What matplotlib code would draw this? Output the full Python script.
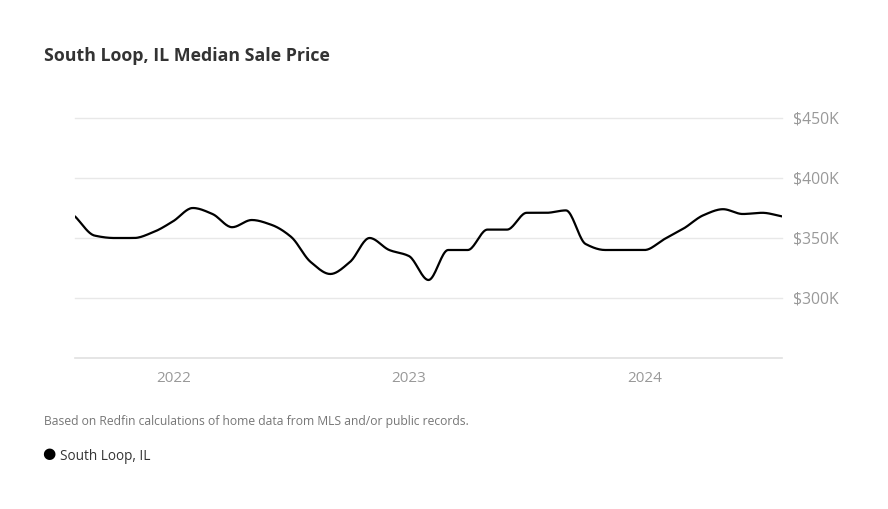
import numpy as np
import matplotlib.pyplot as plt

# monthly median sale price, Aug 2021 .. Aug 2024 (in $K)
months = np.arange(37)  # 0 = Aug 2021
prices = [368, 352, 350, 350, 355, 364, 375, 370, 359, 365, 361, 351,
          330, 320, 330, 350, 340, 335, 315, 340, 340, 357, 357, 371,
          371, 373, 345, 340, 340, 340, 349, 358, 369, 374, 370, 371, 368]

year_ticks = [5, 17, 29]
year_labels = ["2022", "2023", "2024"]
y_ticks = [300, 350, 400, 450]
y_labels = ["$300K", "$350K", "$400K", "$450K"]


def pchip(x, y, n=20):
    # monotone cubic curve so the line looks like the smooth web chart
    x = np.asarray(x, float)
    y = np.asarray(y, float)
    h = np.diff(x)
    d = np.diff(y) / h
    m = np.zeros_like(y)
    for k in range(1, len(y) - 1):
        if d[k - 1] * d[k] > 0:
            w1 = 2 * h[k] + h[k - 1]
            w2 = h[k] + 2 * h[k - 1]
            m[k] = (w1 + w2) / (w1 / d[k - 1] + w2 / d[k])
    m[0] = d[0]
    m[-1] = d[-1]
    xs, ys = [], []
    for k in range(len(h)):
        t = np.linspace(0, 1, n, endpoint=False)
        h00 = 2 * t**3 - 3 * t**2 + 1
        h10 = t**3 - 2 * t**2 + t
        h01 = -2 * t**3 + 3 * t**2
        h11 = t**3 - t**2
        xs.append(x[k] + t * h[k])
        ys.append(h00 * y[k] + h10 * h[k] * m[k] + h01 * y[k + 1] + h11 * h[k] * m[k + 1])
    xs.append([x[-1]])
    ys.append([y[-1]])
    return np.concatenate(xs), np.concatenate(ys)


plt.rcParams['font.family'] = ['Open Sans', 'DejaVu Sans']

fig = plt.figure(figsize=(8.88, 5.09), dpi=100)
ax = fig.add_axes([75 / 888, 1 - 358 / 509, 707 / 888, 240 / 509])

sx, sy = pchip(months, prices)
ax.plot(sx, sy, color='black', lw=1.6, solid_capstyle='round', zorder=3)

ax.set_xlim(0, 36)
ax.set_ylim(250, 450)
for v in y_ticks:
    ax.axhline(v, color='#e8e8e8', lw=1, zorder=1, clip_on=False)
ax.axhline(250, color='#e0e0e0', lw=1.2, zorder=1, clip_on=False)

for s in ax.spines.values():
    s.set_visible(False)
ax.set_xticks(year_ticks)
ax.set_xticklabels(year_labels, color='#999999', fontsize=11)
ax.set_yticks(y_ticks)
ax.set_yticklabels(y_labels, color='#999999', fontsize=11.3)
ax.yaxis.tick_right()
ax.tick_params(axis='both', length=0)
ax.tick_params(axis='y', pad=8)
ax.tick_params(axis='x', pad=9)

fig.text(44 / 888, 1 - 56 / 509, "South Loop, IL Median Sale Price", fontsize=12.8,
         fontweight='bold', color='#333333', va='center')
fig.text(44 / 888, 1 - 422 / 509,
         "Based on Redfin calculations of home data from MLS and/or public records.",
         fontsize=8.7, color='#767676', va='center')
fig.text(49 / 888, 1 - 454 / 509, "\u25cf", fontsize=11, color='black', va='center', ha='center',
         family=['DejaVu Sans'])
fig.text(60 / 888, 1 - 457 / 509, "South Loop, IL", fontsize=9.8, color='#333333', va='center')

fig.savefig('out.png', dpi=100)
